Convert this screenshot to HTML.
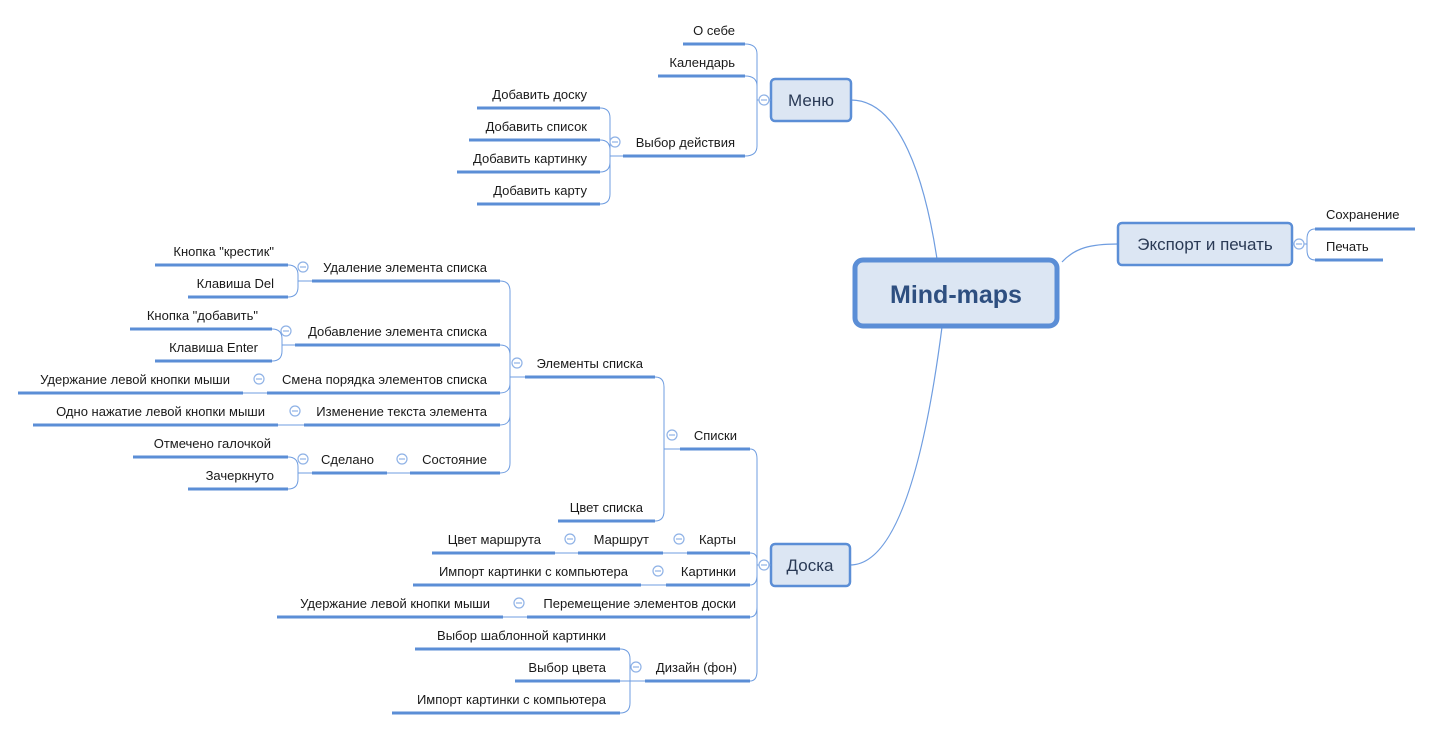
<!DOCTYPE html>
<html><head><meta charset="utf-8"><style>
html,body{margin:0;padding:0;background:#fff;}
svg{display:block;}
text{font-family:"Liberation Sans","DejaVu Sans",sans-serif;font-size:13px;fill:#1a1a1a;}
.u{stroke:#5b8ed6;stroke-width:3;fill:none;}
.c{stroke:#6f9de0;stroke-width:1.2;fill:none;}
.t{stroke:#6f9de0;stroke-width:1;fill:none;}
.cir{fill:#fff;stroke:#8fb2e6;stroke-width:1.2;}
.box{fill:#dce6f3;stroke:#5b8ed6;stroke-width:2.5;}
</style></head><body>
<svg width="1433" height="730" viewBox="0 0 1433 730" xmlns="http://www.w3.org/2000/svg">
<defs>
<g id="m"><circle class="cir" cx="0" cy="0" r="5"/><line x1="-3" y1="0" x2="3" y2="0" stroke="#8fb2e6" stroke-width="1.2"/></g>
</defs>

<path class="c" d="M851 100 C900 100 925 180 937 259"/>
<path class="c" d="M850 565 C905 565 930 420 942 327"/>
<path class="c" d="M1062 262 C1075 248 1090 244 1118 244"/>

<rect x="855" y="260" width="202" height="66" rx="8" fill="#dce6f3" stroke="#5b8ed6" stroke-width="5"/>
<text x="956" y="303" text-anchor="middle" style="font-size:25px;font-weight:bold;fill:#2e4f80">Mind-maps</text>

<rect class="box" x="771" y="79" width="80" height="42" rx="4"/>
<text x="811" y="106" text-anchor="middle" style="font-size:17px;fill:#2a3a55">Меню</text>
<path class="t" d="M745 44 Q757 44 757 54 L757 100 M745 76 Q757 76 757 86 L757 100 M745 156 Q757 156 757 146 L757 100 L771 100"/>
<use href="#m" x="764" y="100"/>
<line class="u" x1="683" y1="44" x2="745" y2="44"/><text x="735" y="35" text-anchor="end">О себе</text>
<line class="u" x1="658" y1="76" x2="745" y2="76"/><text x="735" y="67" text-anchor="end">Календарь</text>
<line class="u" x1="623" y1="156" x2="745" y2="156"/><text x="735" y="147" text-anchor="end">Выбор действия</text>
<path class="t" d="M600 108 Q610 108 610 118 L610 156 M600 140 Q610 140 610 150 L610 156 M600 172 Q610 172 610 162 L610 156 M600 204 Q610 204 610 194 L610 156 L623 156"/>
<use href="#m" x="615" y="142"/>
<line class="u" x1="477" y1="108" x2="600" y2="108"/><text x="587" y="99" text-anchor="end">Добавить доску</text>
<line class="u" x1="469" y1="140" x2="600" y2="140"/><text x="587" y="131" text-anchor="end">Добавить список</text>
<line class="u" x1="457" y1="172" x2="600" y2="172"/><text x="587" y="163" text-anchor="end">Добавить картинку</text>
<line class="u" x1="477" y1="204" x2="600" y2="204"/><text x="587" y="195" text-anchor="end">Добавить карту</text>

<rect class="box" x="1118" y="223" width="174" height="42" rx="4"/>
<text x="1205" y="250" text-anchor="middle" style="font-size:17px;fill:#2a3a55">Экспорт и печать</text>
<path class="t" d="M1292 244 L1307 244 M1315 229 Q1307 229 1307 239 L1307 244 M1315 260 Q1307 260 1307 250 L1307 244"/>
<use href="#m" x="1299" y="244"/>
<line class="u" x1="1315" y1="229" x2="1415" y2="229"/><text x="1326" y="219">Сохранение</text>
<line class="u" x1="1315" y1="260" x2="1383" y2="260"/><text x="1326" y="251">Печать</text>

<rect class="box" x="771" y="544" width="79" height="42" rx="4"/>
<text x="810" y="571" text-anchor="middle" style="font-size:17px;fill:#2a3a55">Доска</text>
<path class="t" d="M750 449 Q757 449 757 459 L757 565 M750 553 Q757 553 757 560 L757 565 M750 585 Q757 585 757 575 L757 565 M750 617 Q757 617 757 607 L757 565 M750 681 Q757 681 757 671 L757 565 L771 565"/>
<use href="#m" x="764" y="565"/>

<line class="u" x1="680" y1="449" x2="750" y2="449"/><text x="737" y="440" text-anchor="end">Списки</text>
<use href="#m" x="672" y="435"/>
<path class="t" d="M655 377 Q664 377 664 387 L664 449 L680 449 M655 521 Q664 521 664 511 L664 449"/>
<line class="u" x1="558" y1="521" x2="655" y2="521"/><text x="643" y="512" text-anchor="end">Цвет списка</text>
<line class="u" x1="525" y1="377" x2="655" y2="377"/><text x="643" y="368" text-anchor="end">Элементы списка</text>
<use href="#m" x="517" y="363"/>
<path class="t" d="M500 281 Q510 281 510 291 L510 377 M500 345 Q510 345 510 355 L510 377 M500 393 Q510 393 510 383 L510 377 M500 425 Q510 425 510 415 L510 377 M500 473 Q510 473 510 463 L510 377 L525 377"/>

<line class="u" x1="312" y1="281" x2="500" y2="281"/><text x="487" y="272" text-anchor="end">Удаление элемента списка</text>
<use href="#m" x="303" y="267"/>
<path class="t" d="M288 265 Q298 265 298 275 L298 281 L312 281 M288 297 Q298 297 298 287 L298 281"/>
<line class="u" x1="155" y1="265" x2="288" y2="265"/><text x="274" y="256" text-anchor="end">Кнопка "крестик"</text>
<line class="u" x1="188" y1="297" x2="288" y2="297"/><text x="274" y="288" text-anchor="end">Клавиша Del</text>

<line class="u" x1="295" y1="345" x2="500" y2="345"/><text x="487" y="336" text-anchor="end">Добавление элемента списка</text>
<use href="#m" x="286" y="331"/>
<path class="t" d="M272 329 Q282 329 282 339 L282 345 L295 345 M272 361 Q282 361 282 351 L282 345"/>
<line class="u" x1="130" y1="329" x2="272" y2="329"/><text x="258" y="320" text-anchor="end">Кнопка "добавить"</text>
<line class="u" x1="155" y1="361" x2="272" y2="361"/><text x="258" y="352" text-anchor="end">Клавиша Enter</text>

<line class="u" x1="267" y1="393" x2="500" y2="393"/><text x="487" y="384" text-anchor="end">Смена порядка элементов списка</text>
<use href="#m" x="259" y="379"/>
<line class="t" x1="243" y1="393" x2="267" y2="393"/>
<line class="u" x1="18" y1="393" x2="243" y2="393"/><text x="230" y="384" text-anchor="end">Удержание левой кнопки мыши</text>

<line class="u" x1="304" y1="425" x2="500" y2="425"/><text x="487" y="416" text-anchor="end">Изменение текста элемента</text>
<use href="#m" x="295" y="411"/>
<line class="t" x1="278" y1="425" x2="304" y2="425"/>
<line class="u" x1="33" y1="425" x2="278" y2="425"/><text x="265" y="416" text-anchor="end">Одно нажатие левой кнопки мыши</text>

<line class="u" x1="410" y1="473" x2="500" y2="473"/><text x="487" y="464" text-anchor="end">Состояние</text>
<use href="#m" x="402" y="459"/>
<line class="t" x1="387" y1="473" x2="410" y2="473"/>
<line class="u" x1="312" y1="473" x2="387" y2="473"/><text x="374" y="464" text-anchor="end">Сделано</text>
<use href="#m" x="303" y="459"/>
<path class="t" d="M288 457 Q298 457 298 467 L298 473 L312 473 M288 489 Q298 489 298 479 L298 473"/>
<line class="u" x1="133" y1="457" x2="288" y2="457"/><text x="271" y="448" text-anchor="end">Отмечено галочкой</text>
<line class="u" x1="188" y1="489" x2="288" y2="489"/><text x="274" y="480" text-anchor="end">Зачеркнуто</text>

<line class="u" x1="687" y1="553" x2="750" y2="553"/><text x="736" y="544" text-anchor="end">Карты</text>
<use href="#m" x="679" y="539"/>
<line class="t" x1="663" y1="553" x2="687" y2="553"/>
<line class="u" x1="578" y1="553" x2="663" y2="553"/><text x="649" y="544" text-anchor="end">Маршрут</text>
<use href="#m" x="570" y="539"/>
<line class="t" x1="555" y1="553" x2="578" y2="553"/>
<line class="u" x1="432" y1="553" x2="555" y2="553"/><text x="541" y="544" text-anchor="end">Цвет маршрута</text>

<line class="u" x1="666" y1="585" x2="750" y2="585"/><text x="736" y="576" text-anchor="end">Картинки</text>
<use href="#m" x="658" y="571"/>
<line class="t" x1="641" y1="585" x2="666" y2="585"/>
<line class="u" x1="413" y1="585" x2="641" y2="585"/><text x="628" y="576" text-anchor="end">Импорт картинки с компьютера</text>

<line class="u" x1="527" y1="617" x2="750" y2="617"/><text x="736" y="608" text-anchor="end">Перемещение элементов доски</text>
<use href="#m" x="519" y="603"/>
<line class="t" x1="503" y1="617" x2="527" y2="617"/>
<line class="u" x1="277" y1="617" x2="503" y2="617"/><text x="490" y="608" text-anchor="end">Удержание левой кнопки мыши</text>

<line class="u" x1="645" y1="681" x2="750" y2="681"/><text x="737" y="672" text-anchor="end">Дизайн (фон)</text>
<use href="#m" x="636" y="667"/>
<path class="t" d="M620 649 Q630 649 630 659 L630 681 L645 681 M620 681 L630 681 M620 713 Q630 713 630 703 L630 681"/>
<line class="u" x1="415" y1="649" x2="620" y2="649"/><text x="606" y="640" text-anchor="end">Выбор шаблонной картинки</text>
<line class="u" x1="515" y1="681" x2="620" y2="681"/><text x="606" y="672" text-anchor="end">Выбор цвета</text>
<line class="u" x1="392" y1="713" x2="620" y2="713"/><text x="606" y="704" text-anchor="end">Импорт картинки с компьютера</text>
</svg>
</body></html>
